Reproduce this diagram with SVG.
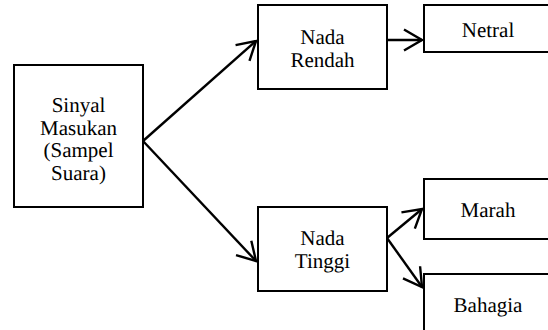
<svg xmlns="http://www.w3.org/2000/svg" width="548" height="330" viewBox="0 0 548 330" text-rendering="geometricPrecision">
<style>
.box{fill:#fff;stroke:#000;stroke-width:2}
.c{fill:none;stroke:#000;stroke-width:2.4}
</style>
<defs>
<marker id="ah" viewBox="-22 -13 24 26" refX="0" refY="0" markerWidth="24" markerHeight="26" markerUnits="userSpaceOnUse" orient="auto">
<path d="M-18,-10.5 L0,0 L-18,10.5" fill="none" stroke="#000" stroke-width="2.4"/>
</marker>
</defs>
<rect width="548" height="330" fill="#fff"/>
<g id="connectors">
<line class="c" x1="143" y1="141" x2="256" y2="41" marker-end="url(#ah)"/>
<line class="c" x1="143" y1="141" x2="256" y2="261" marker-end="url(#ah)"/>
<line class="c" x1="387" y1="40" x2="422" y2="40" marker-end="url(#ah)"/>
<line class="c" x1="387" y1="238" x2="422" y2="209" marker-end="url(#ah)"/>
<line class="c" x1="387" y1="238" x2="422" y2="287" marker-end="url(#ah)"/>
</g>
<g id="sinyal">
<rect class="box" x="14" y="65" width="129" height="142"/>
<g font-family="Liberation Serif, serif" font-size="21" text-anchor="middle" fill="#000" text-rendering="geometricPrecision">
<text x="78.5" y="112">Sinyal</text>
<text x="78.5" y="134.5">Masukan</text>
<text x="78.5" y="157">(Sampel</text>
<text x="78.5" y="179.5">Suara)</text>
</g>
</g>
<g id="nada-rendah">
<rect class="box" x="258" y="5" width="129" height="84"/>
<g font-family="Liberation Serif, serif" font-size="21" text-anchor="middle" fill="#000" text-rendering="geometricPrecision">
<text x="322.5" y="43.5">Nada</text>
<text x="322.5" y="66.5">Rendah</text>
</g>
</g>
<g id="nada-tinggi">
<rect class="box" x="258" y="207" width="129" height="84"/>
<g font-family="Liberation Serif, serif" font-size="21" text-anchor="middle" fill="#000" text-rendering="geometricPrecision">
<text x="322.5" y="244.5">Nada</text>
<text x="322.5" y="267.5">Tinggi</text>
</g>
</g>
<g id="netral">
<rect class="box" x="424" y="5" width="140" height="47"/>
<text x="488" y="36.5" font-family="Liberation Serif, serif" font-size="21" text-anchor="middle" fill="#000" text-rendering="geometricPrecision">Netral</text>
</g>
<g id="marah">
<rect class="box" x="424" y="179" width="140" height="60"/>
<text x="488" y="217" font-family="Liberation Serif, serif" font-size="21" text-anchor="middle" fill="#000" text-rendering="geometricPrecision">Marah</text>
</g>
<g id="bahagia">
<rect class="box" x="424" y="274" width="140" height="70"/>
<text x="488" y="311.5" font-family="Liberation Serif, serif" font-size="21" text-anchor="middle" fill="#000" text-rendering="geometricPrecision">Bahagia</text>
</g>
</svg>
